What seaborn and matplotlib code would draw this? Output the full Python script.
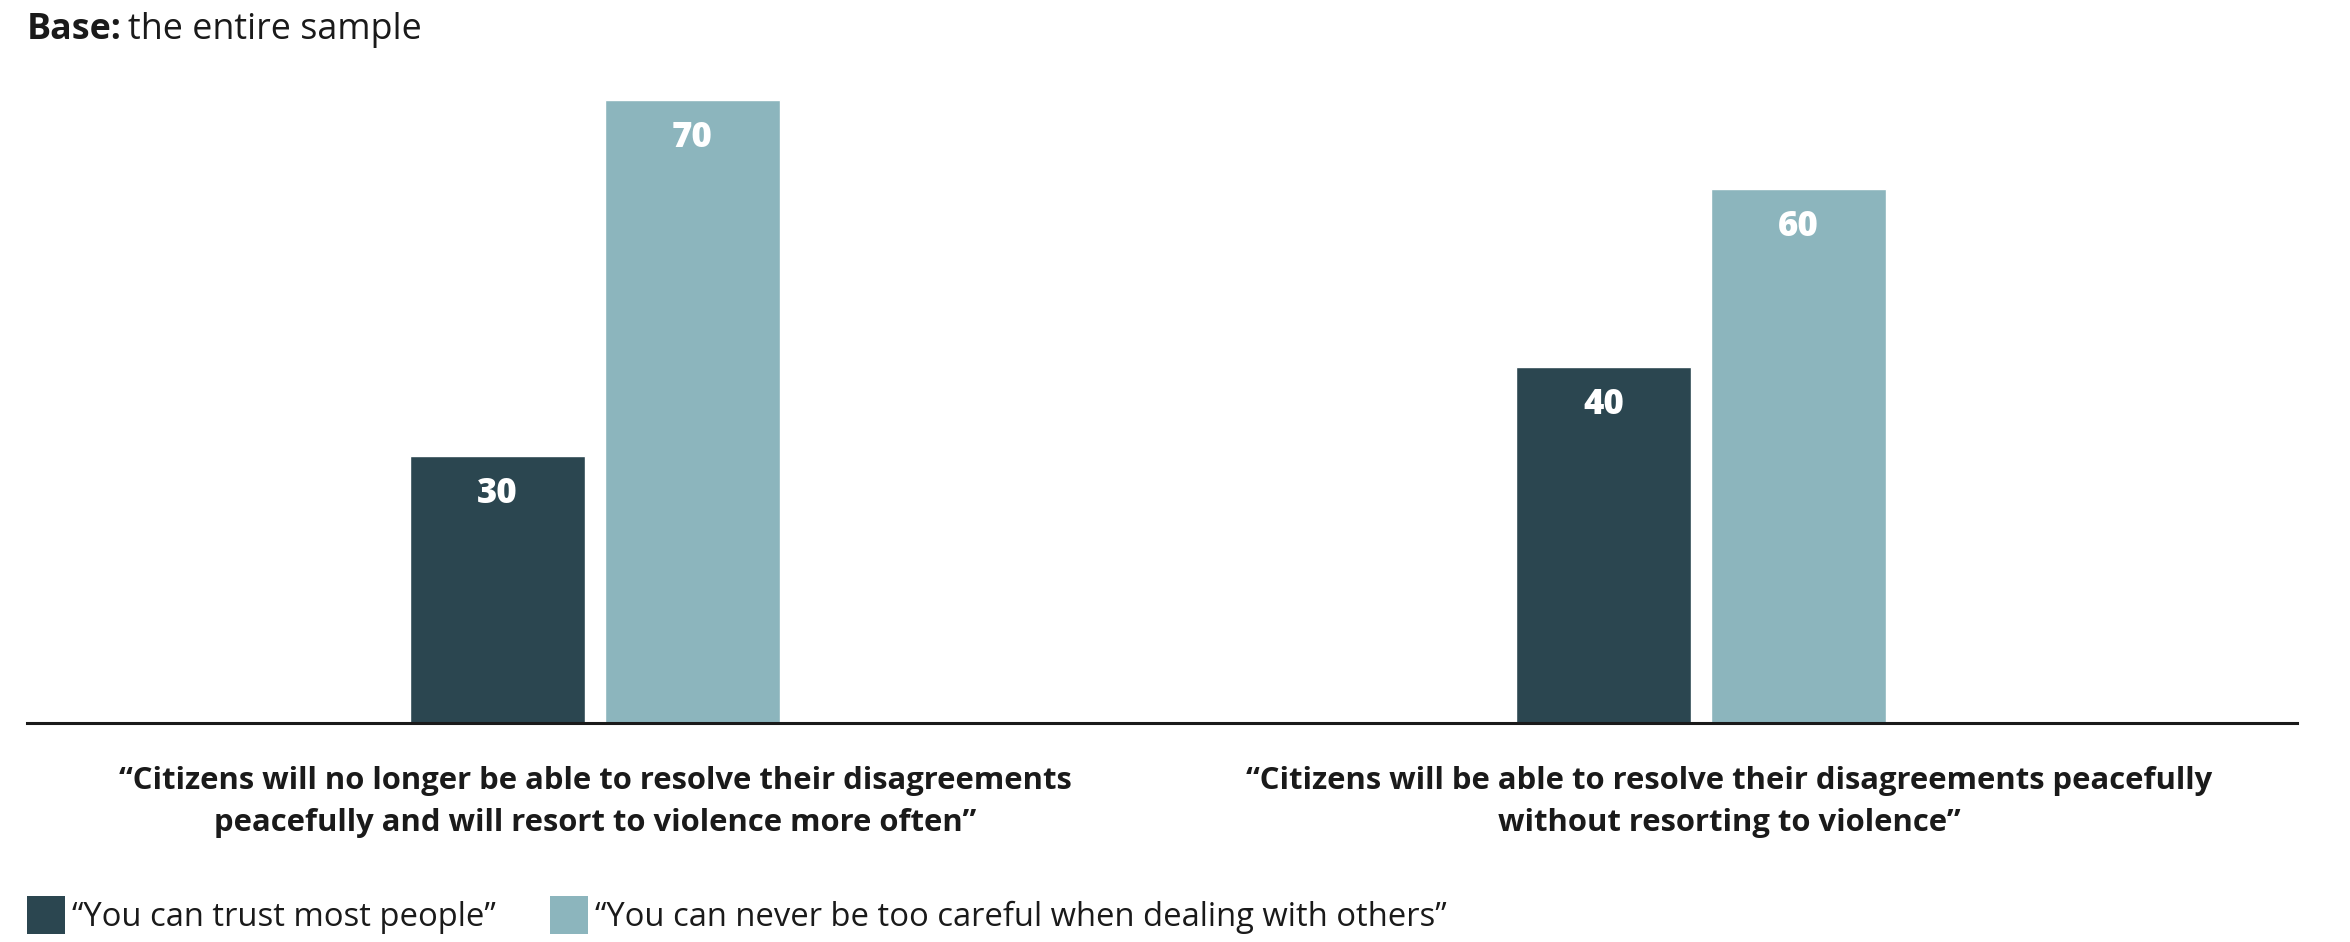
import matplotlib
matplotlib.use("Agg")
import numpy as np
import pandas as pd
import seaborn as sns
import matplotlib.pyplot as plt
import matplotlib.transforms as mtransforms
from matplotlib.patches import Patch

# data
statements = [
    "\u201cCitizens will no longer be able to resolve their disagreements\npeacefully and will resort to violence more often\u201d",
    "\u201cCitizens will be able to resolve their disagreements peacefully\nwithout resorting to violence\u201d",
]
series = [
    "\u201cYou can trust most people\u201d",
    "\u201cYou can never be too careful when dealing with others\u201d",
]
trust_most = [30, 40]
never_careful = [70, 60]
colors = ["#2B4650", "#8CB5BD"]

sns.set_style("white")
plt.rcParams["font.family"] = ["Open Sans", "DejaVu Sans"]

df = pd.DataFrame({
    "statement": statements * 2,
    "series": [series[0]] * 2 + [series[1]] * 2,
    "value": trust_most + never_careful,
})

W, H = 2350, 942
fig = plt.figure(figsize=(W / 100, H / 100), dpi=100)
ax = fig.add_axes([27 / W, 219 / H, 2270 / W, 668 / H])

sns.barplot(data=df, x="statement", y="value", hue="series",
            palette=colors, saturation=1, width=0.3526, gap=0.1026,
            legend=False, ax=ax)

ax.set_ylim(0, 75)
ax.set_xlim(-0.5136, 1.5389)
ax.set_xlabel("")
ax.set_ylabel("")
ax.set_yticks([])
for s in ["top", "left", "right"]:
    ax.spines[s].set_visible(False)
ax.spines["bottom"].set_color("#1a1a1a")
ax.spines["bottom"].set_linewidth(2.2)
ax.tick_params(axis="x", length=0, pad=31)
ax.set_xticks(range(len(statements)))
ax.set_xticklabels(statements, fontsize=22.3, fontweight="bold",
                   color="#1a1a1a", linespacing=1.5)
# second label sits a little right of its bar pair in the reference
lab = ax.get_xticklabels()[1]
lab.set_transform(lab.get_transform() +
                  mtransforms.ScaledTranslation(0.28, 0, fig.dpi_scale_trans))

# value labels inside the bar tops
for cont in ax.containers:
    for bar in cont:
        h = bar.get_height()
        ax.annotate(f"{h:.0f}", (bar.get_x() + bar.get_width() / 2, h),
                    xytext=(0, -27.5), textcoords="offset points",
                    ha="center", va="center", color="white",
                    fontsize=25, fontweight="heavy")

# title: bold "Base:" followed by regular text
ty = 1 - 30 / H
t1 = fig.text(27 / W, ty, "Base:", fontsize=25.8, fontweight="bold",
              color="#1a1a1a", va="center", ha="left")
fig.canvas.draw()
bb = t1.get_window_extent(fig.canvas.get_renderer())
fig.text((bb.x1 + 6) / W, ty, "the entire sample", fontsize=25.8,
         color="#1a1a1a", va="center", ha="left")

# legend
fs = 23.6
fs_px = fs * 100 / 72
hh = (38 / fs_px - 0.245) / 0.65
handles = [Patch(facecolor=c, edgecolor="none") for c in colors]
fig.legend(handles, series, loc="center left",
           bbox_to_anchor=(27 / W, 27 / H), ncol=2, frameon=False,
           fontsize=fs, borderpad=0, borderaxespad=0,
           handlelength=38 / fs_px, handleheight=hh,
           handletextpad=7 / fs_px, columnspacing=54 / fs_px,
           labelcolor="#1a1a1a")

fig.savefig("out.png", dpi=100, facecolor="white")
